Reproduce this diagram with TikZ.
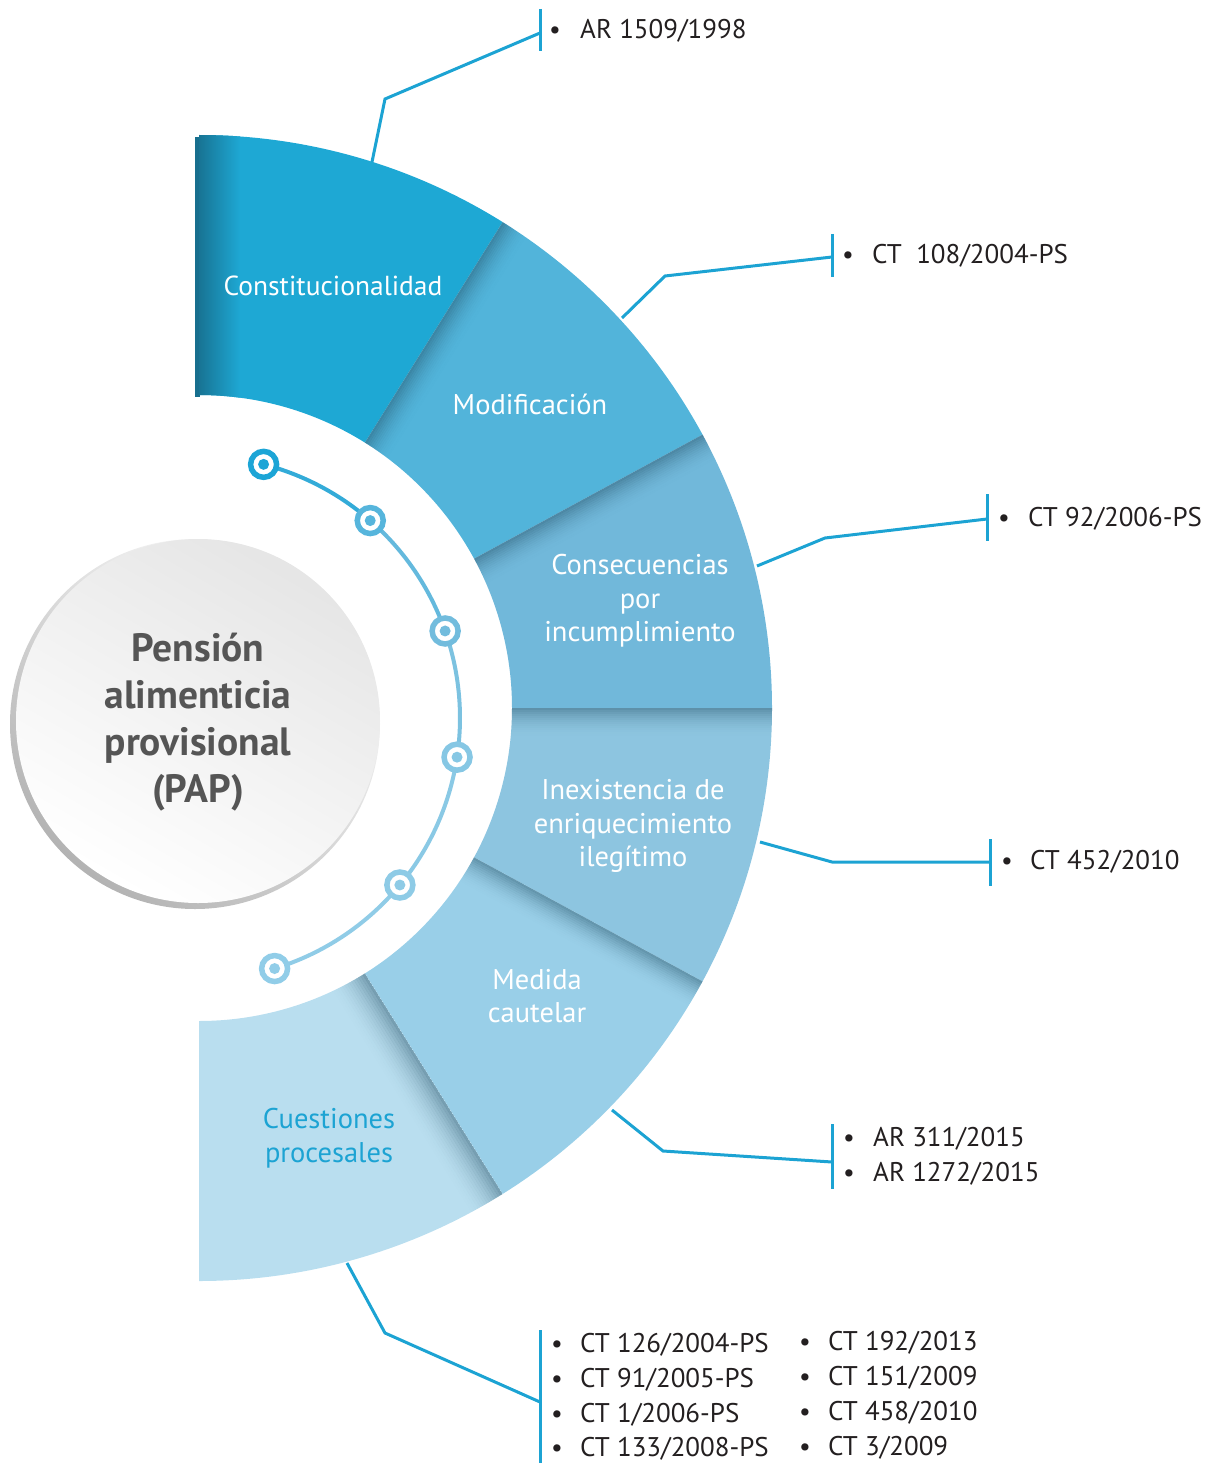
\documentclass[tikz,border=0pt]{standalone}
\usepackage{fontspec}
\setmainfont{PT Sans}
\usetikzlibrary{calc}
\definecolor{cA}{HTML}{1EA8D4}
\definecolor{cAdark}{HTML}{176F8E}
\definecolor{cB}{HTML}{52B4DA}
\definecolor{cC}{HTML}{71B8DA}
\definecolor{cD}{HTML}{8DC5E0}
\definecolor{cE}{HTML}{99CFE8}
\definecolor{cF}{HTML}{B9DEEF}
\definecolor{lineblue}{HTML}{1CA3D3}
\definecolor{txtdark}{HTML}{231F20}
\definecolor{papgray}{HTML}{555555}
\definecolor{shadowc}{HTML}{1E4A60}
\definecolor{dA}{HTML}{1CA5D6}
\definecolor{dB}{HTML}{56B5DC}
\definecolor{dC}{HTML}{72BCDD}
\definecolor{dD}{HTML}{86C7E4}
\definecolor{dE}{HTML}{8ECBE6}
\definecolor{dF}{HTML}{91CDE8}
\newcommand{\ringpath}[2]{($(C)+(#1:573)$) arc[start angle=#1, end angle=#2, radius=573] -- ($(C)+(#2:313)$) arc[start angle=#2, end angle=#1, radius=313] -- cycle}
\newcommand{\segshadow}[3]{%
\begin{scope}
\clip \ringpath{#1}{#2};
\foreach \j in {0,...,13} {
 \pgfmathsetmacro{\op}{0.42*(1-\j/14)^2}
 \fill[shadowc, opacity=\op] ($(C)+(#1:290)+(#1+90:#3*\j)$) -- ($(C)+(#1:600)+(#1+90:#3*\j)$) -- ($(C)+(#1:600)+(#1+90:#3*\j+#3)$) -- ($(C)+(#1:290)+(#1+90:#3*\j+#3)$) -- cycle;
}
\end{scope}}
\begin{document}
\begin{tikzpicture}[x=1pt,y=-1pt,
  seglabel/.style={align=center, text=white, font=\fontsize{28.5}{33.5}\selectfont, inner sep=0pt},
  callout/.style={draw=lineblue, line width=3pt},
  bar/.style={draw=lineblue, line width=3pt},
  reftext/.style={anchor=base west, text=txtdark, font=\fontsize{27}{33}\selectfont, inner sep=0pt},
  bul/.style={anchor=base, text=txtdark, font=\fontsize{26}{30}\selectfont, inner sep=0pt},
  dotring/.style={circle, minimum size=26pt, line width=5.5pt, fill=white, inner sep=0pt}]
\useasboundingbox (0,0) rectangle (1213,1463);
\coordinate (C) at (199,708);
\coordinate (A) at (198,718);

% ring segments
\fill[cA] \ringpath{-90}{-58};
\fill[cAdark] (195,137) rectangle (200,397);
\begin{scope}
\clip \ringpath{-90}{-58};
\shade[left color=cAdark, right color=cA] (195,120) rectangle (240,410);
\end{scope}
\fill[cB] \ringpath{-58}{-28.5};
\segshadow{-58}{-28.5}{2}
\fill[cC] \ringpath{-28.5}{0};
\segshadow{-28.5}{0}{2}
\fill[cD] \ringpath{0}{28.5};
\segshadow{0}{28.5}{2}
\fill[cE] \ringpath{28.5}{58};
\segshadow{28.5}{58}{2}
\fill[cF] \ringpath{58}{90};
\segshadow{58}{90}{2.6}

% segment labels
\node[seglabel, font=\fontsize{27.5}{33}\selectfont] (s1) at (333,286) {Constitucionalidad};
\node[seglabel] (s2) at (530,404) {Modificación};
\node[seglabel] (s3) at (640,601) {Consecuencias\\por\\incumplimiento};
\node[seglabel] (s4) at (633,826) {Inexistencia de\\enriquecimiento\\ilegítimo};
\node[seglabel] (s5) at (537,996) {Medida\\cautelar};
\node[seglabel, text=lineblue] (s6) at (329,1138) {Cuestiones\\procesales};

% central circle
\shade[top color=white, bottom color=black!30, shading angle=-40] (195,724) circle (185);
\shade[top color=black!10, bottom color=white, shading angle=-30] (198,721) circle (182);
\node[align=center, text=papgray, font=\bfseries\fontsize{39.5}{47}\selectfont, inner sep=0pt] (pap) at (198,722) {Pensión\\alimenticia\\provisional\\(PAP)};

% dotted arc
\draw[dA!60!dB, line width=4pt] ($(A)+(-75.5:262)$) arc[start angle=-75.5, end angle=-48.9, radius=262];
\draw[dB!50!dC, line width=4pt] ($(A)+(-48.9:262)$) arc[start angle=-48.9, end angle=-19.4, radius=262];
\draw[dC!50!dD, line width=4pt] ($(A)+(-19.4:262)$) arc[start angle=-19.4, end angle=8.6, radius=262];
\draw[dD!50!dE, line width=4pt] ($(A)+(8.6:262)$) arc[start angle=8.6, end angle=39.6, radius=262];
\draw[dE!50!dF, line width=4pt] ($(A)+(39.6:262)$) arc[start angle=39.6, end angle=73, radius=262];
\node[dotring, draw=dA] (d1) at ($(A)+(-75.5:262)$) {};
\node[dotring, draw=dB] (d2) at ($(A)+(-48.9:262)$) {};
\node[dotring, draw=dC] (d3) at ($(A)+(-19.4:262)$) {};
\node[dotring, draw=dD] (d4) at ($(A)+(8.6:262)$) {};
\node[dotring, draw=dE] (d5) at ($(A)+(39.6:262)$) {};
\node[dotring, draw=dF] (d6) at ($(A)+(73:262)$) {};
\fill[dA] (d1.center) circle (5.5);
\fill[dB] (d2.center) circle (5.5);
\fill[dC] (d3.center) circle (5.5);
\fill[dD] (d4.center) circle (5.5);
\fill[dE] (d5.center) circle (5.5);
\fill[dF] (d6.center) circle (5.5);

% callout 1
\coordinate (p1a) at (372,162); \coordinate (p1b) at (385,99); \coordinate (p1c) at (540,33);
\coordinate (b1t) at (540,9); \coordinate (b1b) at (540,51);
\draw[callout] (p1a) -- (p1b) -- (p1c);
\draw[bar] (b1t) -- (b1b);
\node[bul] (u1) at (555,39) {•};
\node[reftext] (t1) at (580,39) {AR 1509/1998};

% callout 2
\coordinate (p2a) at (622,318); \coordinate (p2b) at (665,276); \coordinate (p2c) at (832,257);
\coordinate (b2t) at (832,234); \coordinate (b2b) at (832,277);
\draw[callout] (p2a) -- (p2b) -- (p2c);
\draw[bar] (b2t) -- (b2b);
\node[bul] (u2) at (848,263) {•};
\node[reftext] (t2) at (872,263) {CT\ \ 108/2004-PS};

% callout 3
\coordinate (p3a) at (757,566); \coordinate (p3b) at (825,538); \coordinate (p3c) at (987,519);
\coordinate (b3t) at (987,494); \coordinate (b3b) at (987,541);
\draw[callout] (p3a) -- (p3b) -- (p3c);
\draw[bar] (b3t) -- (b3b);
\node[bul] (u3) at (1004,526) {•};
\node[reftext] (t3) at (1028,526) {CT 92/2006-PS};

% callout 4
\coordinate (p4a) at (760,842); \coordinate (p4b) at (832,862); \coordinate (p4c) at (990,862);
\coordinate (b4t) at (990,839); \coordinate (b4b) at (990,886);
\draw[callout] (p4a) -- (p4b) -- (p4c);
\draw[bar] (b4t) -- (b4b);
\node[bul] (u4) at (1007,869) {•};
\node[reftext] (t4) at (1030,869) {CT 452/2010};

% callout 5
\coordinate (p5a) at (612,1110); \coordinate (p5b) at (663,1151); \coordinate (p5c) at (832,1162);
\coordinate (b5t) at (832,1124); \coordinate (b5b) at (832,1189);
\draw[callout] (p5a) -- (p5b) -- (p5c);
\draw[bar] (b5t) -- (b5b);
\node[bul] (u5a) at (849,1146) {•};
\node[reftext] (t5a) at (873,1146) {AR 311/2015};
\node[bul] (u5b) at (849,1181) {•};
\node[reftext] (t5b) at (873,1181) {AR 1272/2015};

% callout 6
\coordinate (p6a) at (347,1263); \coordinate (p6b) at (385,1333); \coordinate (p6c) at (540,1402);
\coordinate (b6t) at (540,1330); \coordinate (b6b) at (540,1463);
\draw[callout] (p6a) -- (p6b) -- (p6c);
\draw[bar] (b6t) -- (b6b);
\node[bul] (u6a) at (557,1352) {•}; \node[reftext] (t6a) at (580,1352) {CT 126/2004-PS};
\node[bul] (u6b) at (557,1387) {•}; \node[reftext] (t6b) at (580,1387) {CT 91/2005-PS};
\node[bul] (u6c) at (557,1422) {•}; \node[reftext] (t6c) at (580,1422) {CT 1/2006-PS};
\node[bul] (u6d) at (557,1456) {•}; \node[reftext] (t6d) at (580,1456) {CT 133/2008-PS};
\node[bul] (u6e) at (805,1350) {•}; \node[reftext] (t6e) at (828,1350) {CT 192/2013};
\node[bul] (u6f) at (805,1385) {•}; \node[reftext] (t6f) at (828,1385) {CT 151/2009};
\node[bul] (u6g) at (805,1420) {•}; \node[reftext] (t6g) at (828,1420) {CT 458/2010};
\node[bul] (u6h) at (805,1455) {•}; \node[reftext] (t6h) at (828,1455) {CT 3/2009};
\end{tikzpicture}
\end{document}
